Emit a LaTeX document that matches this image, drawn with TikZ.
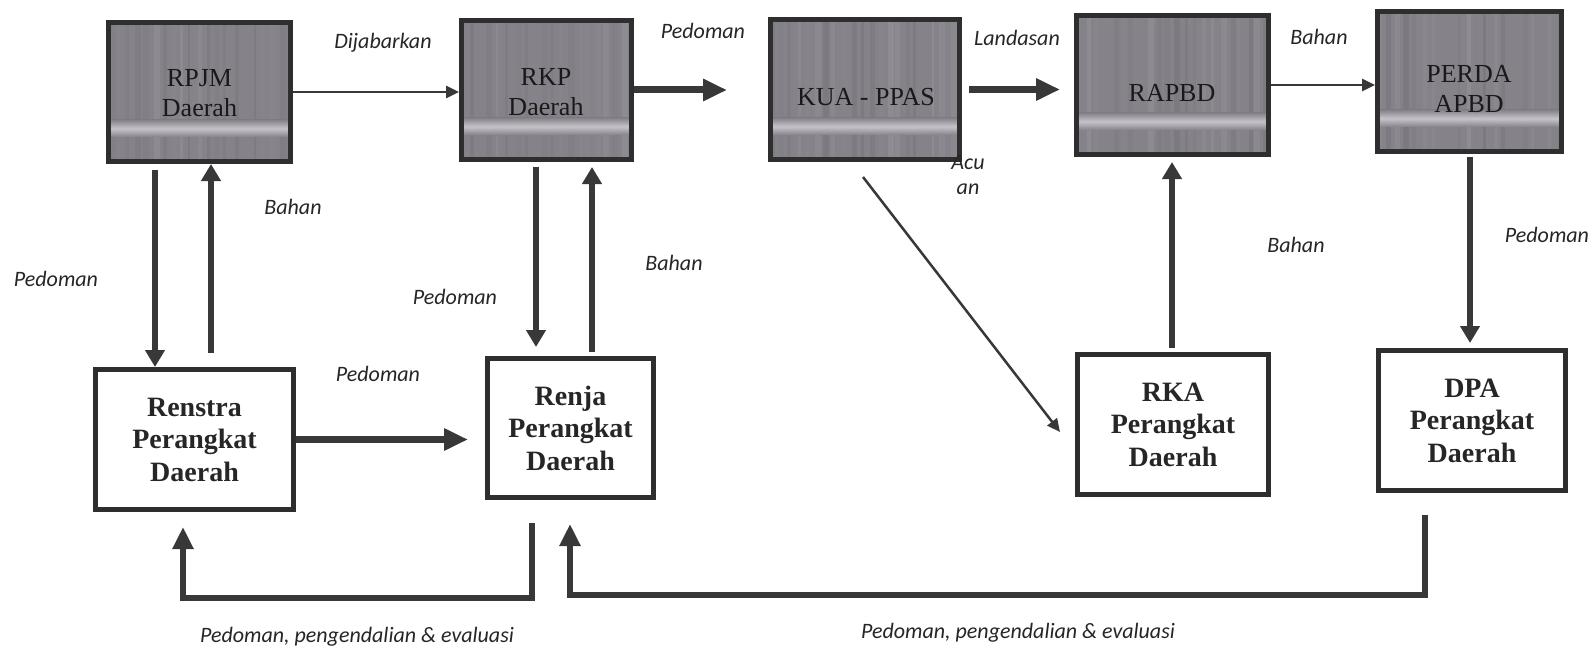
\documentclass[tikz,border=0pt]{standalone}
\usepackage{fontspec}
\setmainfont{Liberation Serif}
\newfontfamily\labelfont{Carlito}
\usetikzlibrary{arrows.meta}
\definecolor{boxgray}{HTML}{86828A}
\definecolor{boxlight}{HTML}{98949C}
\definecolor{boxdark}{HTML}{76727A}
\definecolor{bandgray}{HTML}{C6C3CA}
\definecolor{edgecol}{HTML}{2E2E2E}
\definecolor{arrowcol}{HTML}{383838}
\definecolor{inkcol}{HTML}{262626}
\tikzset{
  darkbox/.style={draw=edgecol, line width=5pt, fill=boxgray, inner sep=0pt},
  whitebox/.style={draw=edgecol, line width=5pt, fill=white, inner sep=0pt,
    font=\fontsize{28}{32.5}\selectfont\bfseries, align=center, text=black!85},
  darktext/.style={font=\fontsize{26}{30}\selectfont, align=center, text=black!90},
  lbl/.style={font=\labelfont\itshape\fontsize{22}{25}\selectfont, text=inkcol, inner sep=0pt, align=center},
  thinarrow/.style={draw=arrowcol, line width=2.5pt, -{Triangle[length=13pt,width=12pt]}},
  thickarrow/.style={draw=arrowcol, line width=7pt, -{Triangle[length=24pt,width=21pt]}},
  vertarrow/.style={draw=arrowcol, line width=5.5pt, -{Triangle[length=17pt,width=19pt]}},
  looparrow/.style={draw=arrowcol, line width=6pt, -{Triangle[length=22pt,width=20pt]}},
  band/.style={top color=boxgray, bottom color=boxgray, middle color=bandgray}
}
\begin{document}
\begin{tikzpicture}[x=1pt,y=-1pt]
\fill[white] (0,0) rectangle (1593,650);
\useasboundingbox (0,0) rectangle (1593,650);

% dark boxes
\node[darkbox, minimum width=182pt, minimum height=139pt] (rpjm) at (199.5,92) {};
\node[darkbox, minimum width=170pt, minimum height=139pt] (rkp) at (546.5,90) {};
\node[darkbox, minimum width=189pt, minimum height=140pt] (kua) at (865,89.5) {};
\node[darkbox, minimum width=192pt, minimum height=139pt] (rapbd) at (1172.5,85) {};
\node[darkbox, minimum width=184pt, minimum height=140pt] (perda) at (1469.5,81.5) {};

\pgfmathsetseed{11}
\foreach \b in {rpjm,rkp,kua,rapbd,perda}{
  \begin{scope}
    \clip ([xshift=5pt,yshift=5pt]\b.south west) rectangle ([xshift=-5pt,yshift=-5pt]\b.north east);
    \foreach \i in {0,...,22}{
      \pgfmathsetmacro{\px}{\i*9+rnd*4}
      \pgfmathsetmacro{\pw}{2+rnd*5}
      \pgfmathsetmacro{\pc}{rnd*100}
      \fill[boxlight!\pc!boxdark, opacity=0.55] ([xshift=\px pt]\b.south west) rectangle ([xshift=\px pt+\pw pt]\b.north west);
    }
  \end{scope}
  \shade[band] ([xshift=5pt,yshift=27pt]\b.south west) rectangle ([xshift=-5pt,yshift=44pt]\b.south east);
  \draw[edgecol, line width=5pt] ([xshift=2.5pt,yshift=2.5pt]\b.south west) rectangle ([xshift=-2.5pt,yshift=-2.5pt]\b.north east);
}

\node[darktext] (rpjmt) at (199.5,93) {RPJM\\Daerah};
\node[darktext] (rkpt) at (546,92) {RKP\\Daerah};
\node[darktext] (kuat) at (866,97) {KUA - PPAS};
\node[darktext] (rapbdt) at (1172,93) {RAPBD};
\node[darktext] (perdat) at (1469,89) {PERDA\\APBD};

% white boxes
\node[whitebox, minimum width=198pt, minimum height=140pt] (renstra) at (194.5,439.5) {Renstra\\Perangkat\\Daerah};
\node[whitebox, minimum width=166pt, minimum height=139pt] (renja) at (570.5,428) {Renja\\Perangkat\\Daerah};
\node[whitebox, minimum width=191pt, minimum height=140pt] (rka) at (1173,424.5) {RKA\\Perangkat\\Daerah};
\node[whitebox, minimum width=187pt, minimum height=140pt] (dpa) at (1472,420.5) {DPA\\Perangkat\\Daerah};

% horizontal arrows
\draw[thinarrow] (rpjm.east) -- (rpjm.east -| rkp.west);
\draw[thickarrow, shorten >=41pt] (rkp.east) -- (rkp.east -| kua.west);
\draw[thickarrow, shorten <=7pt, shorten >=14pt] (kua.east) -- (kua.east -| rapbd.west);
\draw[thinarrow] (rapbd.east) -- (rapbd.east -| perda.west);
\draw[thickarrow, shorten >=17pt] (renstra.east) -- (renstra.east -| renja.west);

% vertical arrows
\draw[vertarrow, shorten <=6pt] ([xshift=-44.5pt]rpjm.south) -- ([xshift=-39.5pt]renstra.north);
\draw[vertarrow, shorten <=14pt] ([xshift=16.5pt]renstra.north) -- ([xshift=11.5pt]rpjm.south);
\draw[vertarrow, shorten <=5pt, shorten >=9pt] ([xshift=-10.5pt]rkp.south) -- ([xshift=-34.5pt]renja.north);
\draw[vertarrow, shorten <=4pt, shorten >=5pt] ([xshift=21.5pt]renja.north) -- ([xshift=45.5pt]rkp.south);
\draw[vertarrow, shorten <=4pt, shorten >=5pt] ([xshift=-1pt]rka.north) -- ([xshift=-0.5pt]rapbd.south);
\draw[vertarrow, shorten <=3pt, shorten >=5pt] ([xshift=0.5pt]perda.south) -- ([xshift=-2pt]dpa.north);

% diagonal
\draw[thinarrow] ([xshift=-2pt,yshift=-15pt]kua.south) -- ([xshift=-15pt,yshift=-7.5pt]rka.west);

% bottom loops
\coordinate (loopL) at (183,598);
\coordinate (loopR) at (570,595);
\draw[looparrow] ([xshift=-38.5pt,yshift=-23pt]renja.south) |- (loopL) -- ([xshift=-11.5pt,yshift=-15pt]renstra.south);
\draw[looparrow] ([xshift=-47pt,yshift=-22pt]dpa.south) |- (loopR) -- ([xshift=-0.5pt,yshift=-24pt]renja.south);

% labels
\node[lbl] (l1) at (383,43) {Dijabarkan};
\node[lbl] (l2) at (703,31) {Pedoman};
\node[lbl] (l3) at (1017,38) {Landasan};
\node[lbl] (l4) at (1319,37) {Bahan};
\node[lbl] (l5) at (293,207) {Bahan};
\node[lbl] (l6) at (56,279) {Pedoman};
\node[lbl] (l7) at (674,263) {Bahan};
\node[lbl] (l8) at (455,297) {Pedoman};
\node[lbl] (l9) at (378,374) {Pedoman};
\node[lbl] (l10) at (968,175) {Acu\\an};
\node[lbl] (l11) at (1296,245) {Bahan};
\node[lbl] (l12) at (1547,235) {Pedoman};
\node[lbl] (l13) at (357,637) {Pedoman, pengendalian \& evaluasi};
\node[lbl] (l14) at (1018,633) {Pedoman, pengendalian \& evaluasi};
\end{tikzpicture}
\end{document}
